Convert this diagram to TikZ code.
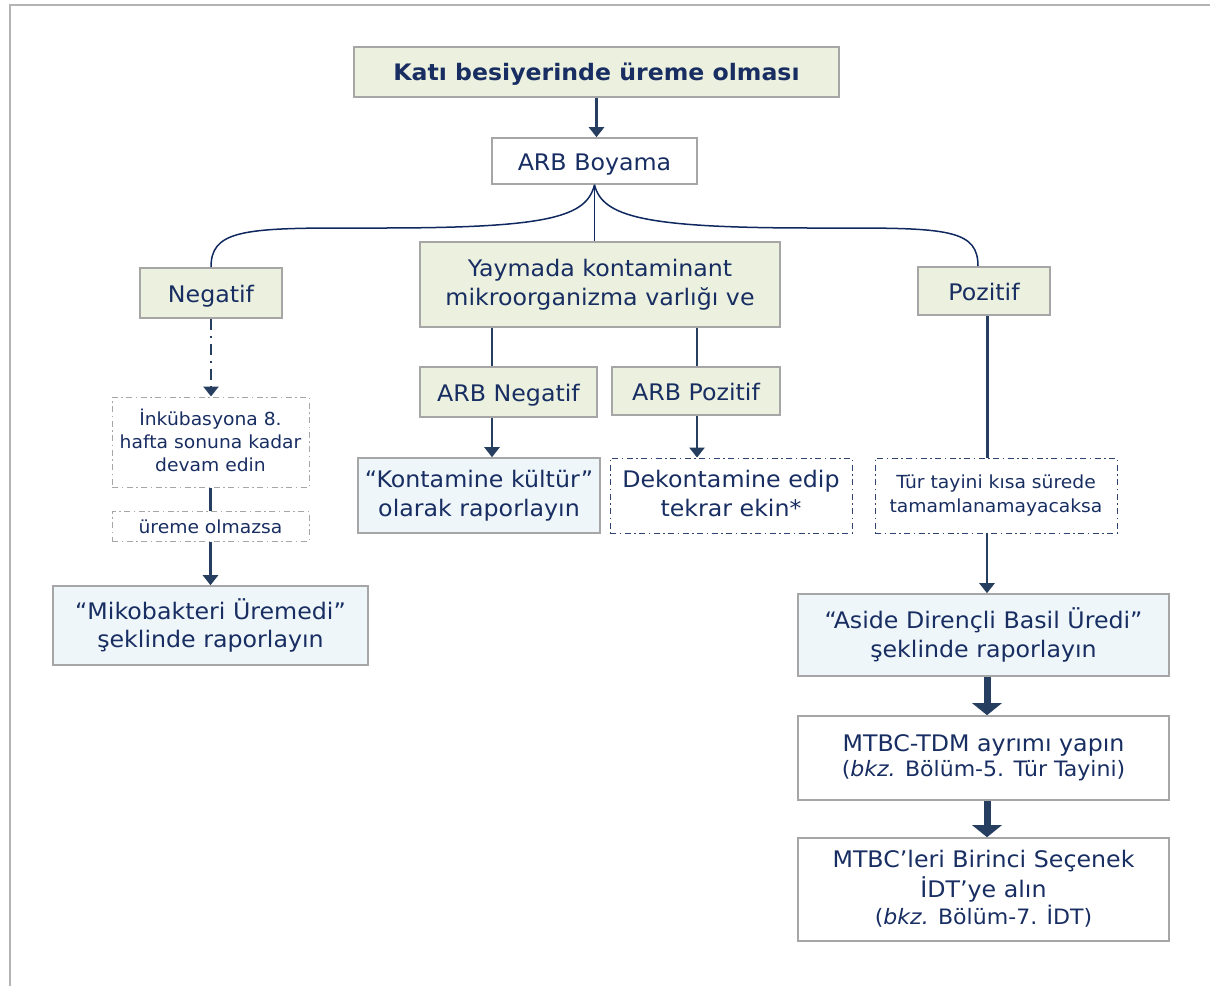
\documentclass[tikz,border=0pt]{standalone}
\usepackage{fontspec}
\setmainfont{DejaVu Sans}[FakeStretch=1.04]
\usetikzlibrary{arrows.meta,calc}

\definecolor{txt}{RGB}{24,46,98}
\definecolor{grn}{RGB}{235,241,222}
\definecolor{blu}{RGB}{238,246,249}
\definecolor{bord}{RGB}{166,166,166}
\definecolor{arr}{RGB}{38,63,96}
\definecolor{crv}{RGB}{16,40,96}
\definecolor{framegray}{RGB}{180,180,180}

% struts giving every text block the full ascent and descent of the face
\newcommand{\topstrut}{\rule{0pt}{1.005em}}
\newcommand{\botstrut}{\rule[-0.21em]{0pt}{0pt}}

\begin{document}
\begin{tikzpicture}[x=1pt,y=-1pt,
  base/.style={draw=bord, line width=1.6pt, inner sep=0pt, align=center, text=txt,
    font=\fontsize{22.8}{28.5}\selectfont,
    execute at begin node=\topstrut, execute at end node=\botstrut},
  greenbox/.style={base, fill=grn},
  bluebox/.style={base, fill=blu},
  whitebox/.style={base, fill=white},
  graydd/.style={base, fill=white, draw=bord, line width=1pt,
    dash pattern=on 6pt off 3.5pt on 1.5pt off 3.5pt,
    font=\fontsize{18}{22.7}\selectfont},
  navydd/.style={base, fill=white, draw=txt!90, line width=0.9pt,
    dash pattern=on 6pt off 3.5pt on 1.5pt off 3.5pt},
  conn/.style={draw=arr, line width=2.6pt},
  thinarrow/.style={conn, -{Triangle[width=15pt,length=10pt]}},
  bigarrow/.style={draw=arr, line width=7pt, -{Triangle[width=29pt,length=12pt]}},
  brace/.style={draw=crv, line width=1.5pt},
]
\useasboundingbox (0,0) rectangle (1210,986);

% page frame
\draw[framegray, line width=2pt] (1210,5) -- (10,5) -- (10,986);

% boxes
\node[greenbox, minimum width=485pt, minimum height=50pt,
  font=\bfseries\fontsize{22.7}{24}\selectfont] (title) at (596.5,72) {Katı besiyerinde üreme olması};
\node[whitebox, minimum width=205pt, minimum height=46pt] (boy) at (594.5,161) {ARB Boyama};
\node[greenbox, minimum width=142pt, minimum height=50pt] (neg) at (211,293) {Negatif};
\node[greenbox, minimum width=360pt, minimum height=85pt] (yay) at (600,284.5)
  {Yaymada kontaminant\\mikroorganizma varlığı ve};
\node[greenbox, minimum width=132pt, minimum height=48pt] (poz) at (984,291) {Pozitif};

\node[graydd, minimum width=197pt, minimum height=90pt] (ink) at (210.5,442)
  {İnkübasyona 8.\\hafta sonuna kadar\\devam edin};
\node[graydd, minimum width=197pt, minimum height=30pt] (ure) at (210.5,526) {üreme olmazsa};
\node[bluebox, minimum width=315pt, minimum height=79pt] (miko) at (210.5,625.5)
  {“Mikobakteri Üremedi”\\şeklinde raporlayın};

\node[greenbox, minimum width=177pt, minimum height=50pt] (aneg) at (508.5,392) {ARB Negatif};
\node[greenbox, minimum width=168pt, minimum height=48pt] (apoz) at (696,391) {ARB Pozitif};
\node[bluebox, minimum width=242pt, minimum height=75pt] (kont) at (479,495.5)
  {“Kontamine kültür”\\olarak raporlayın};
\node[navydd, minimum width=242pt, minimum height=75pt] (dek) at (731,495.5)
  {Dekontamine edip\\tekrar ekin*};

\node[navydd, minimum width=242pt, minimum height=75pt,
  font=\fontsize{18}{23.3}\selectfont] (tur) at (996,495.5)
  {Tür tayini kısa sürede\\tamamlanamayacaksa};
\node[bluebox, minimum width=371pt, minimum height=82pt] (asd) at (983.5,635)
  {“Aside Dirençli Basil Üredi”\\şeklinde raporlayın};
\node[whitebox, minimum width=371pt, minimum height=84pt] (tdm) at (983.5,758)
  {MTBC-TDM ayrımı yapın\\[-3.5pt]{\fontsize{21.2}{25}\selectfont(\textit{bkz.} Bölüm-5. Tür Tayini)}};
\node[whitebox, minimum width=371pt, minimum height=103pt] (mtbc) at (983.5,889.5)
  {MTBC’leri Birinci Seçenek\\[1.5pt]İDT’ye alın\\[-1.8pt]{\fontsize{21.2}{25}\selectfont(\textit{bkz.} Bölüm-7. İDT)}};

% column positions of the vertical connectors
\coordinate (xl) at (492,0);
\coordinate (xr) at (697,0);
\coordinate (xp) at (987,0);

% connectors
\draw[thinarrow] (title.south) -- (title.south |- boy.north);
\draw[brace] (boy.south) .. controls +(-8,32) and +(170,0) .. (380,228) -- (340,228)
  .. controls +(-100,0) and +(0,-35) .. (neg.north);
\draw[brace] (boy.south) .. controls +(8,32) and +(-170,0) .. (814,228) -- (850,228)
  .. controls +(100,0) and +(0,-35) .. ($(poz.north)+(-6,0)$);
\draw[crv, line width=1.2pt] (boy.south) -- (boy.south |- yay.north);

\draw[draw=arr, line width=2.6pt, dash pattern=on 11pt off 6pt on 2pt off 6pt,
  -{Triangle[width=15pt,length=10pt]}] (neg.south) -- (neg.south |- ink.north);
\draw[conn] (ink.south) -- (ure.north);
\draw[thinarrow] (ure.south) -- (miko.north);

\draw[conn] (yay.south -| xl) -- (aneg.north -| xl);
\draw[thinarrow] (aneg.south -| xl) -- (kont.north -| xl);
\draw[conn] (yay.south -| xr) -- (apoz.north -| xr);
\draw[thinarrow] (apoz.south -| xr) -- (dek.north -| xr);

\draw[conn, line width=3pt] (poz.south -| xp) -- (tur.north -| xp);
\draw[thinarrow] (tur.south -| xp) -- (asd.north -| xp);
\draw[bigarrow] (asd.south -| xp) -- (tdm.north -| xp);
\draw[bigarrow] (tdm.south -| xp) -- (mtbc.north -| xp);
\end{tikzpicture}
\end{document}
